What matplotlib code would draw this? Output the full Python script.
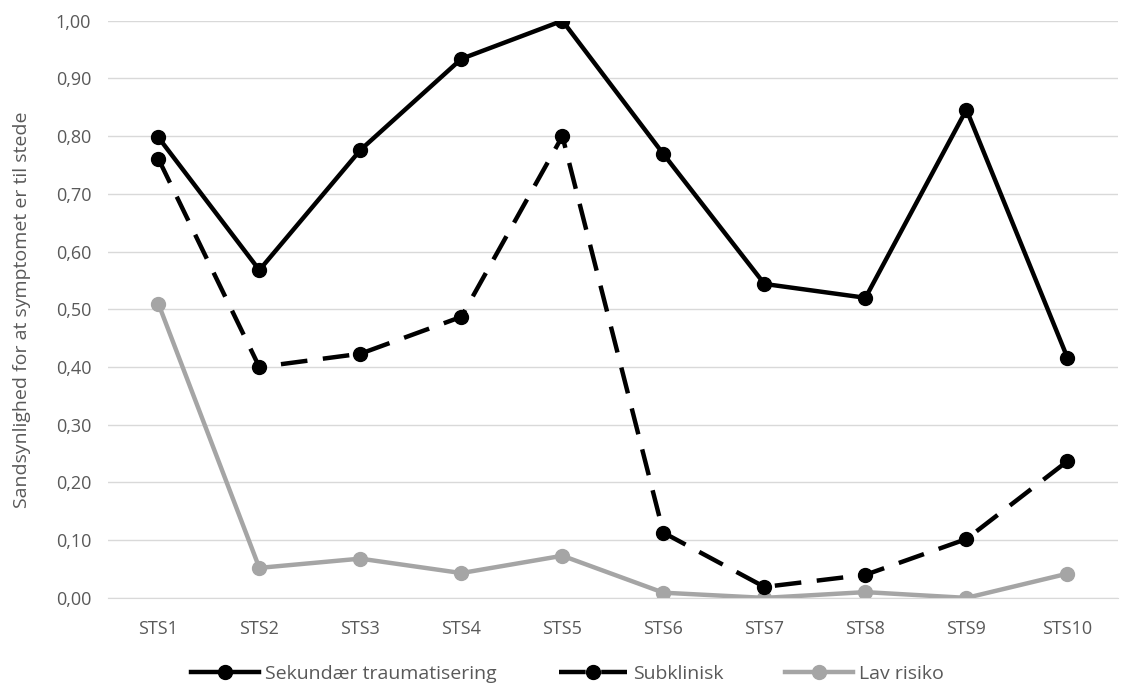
import matplotlib
matplotlib.use('Agg')
import matplotlib.pyplot as plt
from matplotlib.ticker import FuncFormatter

# Data
categories = ['STS1', 'STS2', 'STS3', 'STS4', 'STS5',
              'STS6', 'STS7', 'STS8', 'STS9', 'STS10']
sekundaer = [0.798, 0.568, 0.776, 0.934, 1.000, 0.769, 0.544, 0.520, 0.846, 0.416]
subklinisk = [0.761, 0.400, 0.423, 0.487, 0.800, 0.113, 0.019, 0.040, 0.102, 0.237]
lav_risiko = [0.510, 0.052, 0.068, 0.043, 0.073, 0.009, 0.000, 0.010, 0.000, 0.042]

plt.rcParams['font.family'] = ['Open Sans', 'DejaVu Sans']

fig = plt.figure(figsize=(11.35, 6.92), dpi=100)
ax = fig.add_axes([0.095, 0.136, 0.89, 0.834])

x = range(len(categories))
ax.plot(x, sekundaer, color='black', lw=3.2, marker='o', markersize=10,
        label='Sekundær traumatisering', zorder=3)
ax.plot(x, subklinisk, color='black', lw=3.2, marker='o', markersize=10,
        dashes=(6, 3.5), label='Subklinisk', zorder=3)
ax.plot(x, lav_risiko, color='#A5A5A5', lw=3.2, marker='o', markersize=10,
        label='Lav risiko', zorder=2)

ax.set_xlim(-0.5, len(categories) - 0.5)
ax.set_ylim(0, 1.0)
ax.set_yticks([i / 10 for i in range(11)])
ax.yaxis.set_major_formatter(FuncFormatter(lambda v, p: f'{v:.2f}'.replace('.', ',')))
ax.set_xticks(list(x))
ax.set_xticklabels(categories)
ax.grid(True, axis='y', color='#D9D9D9', lw=1)
ax.set_axisbelow(True)
for s in ['top', 'right', 'left']:
    ax.spines[s].set_visible(False)
ax.spines['bottom'].set_color('#D9D9D9')
ax.tick_params(axis='both', length=0, labelsize=13, colors='#595959', pad=12)
ax.tick_params(axis='x', pad=16)
ax.set_ylabel('Sandsynlighed for at symptomet er til stede',
              fontsize=14, color='#595959', labelpad=18)

fig.legend(loc='lower center', bbox_to_anchor=(0.5, -0.012), ncol=3,
           frameon=False, fontsize=14, handlelength=3.5, columnspacing=3.2,
           handletextpad=0.3, labelcolor='#595959')

fig.savefig('out.png', dpi=100)
